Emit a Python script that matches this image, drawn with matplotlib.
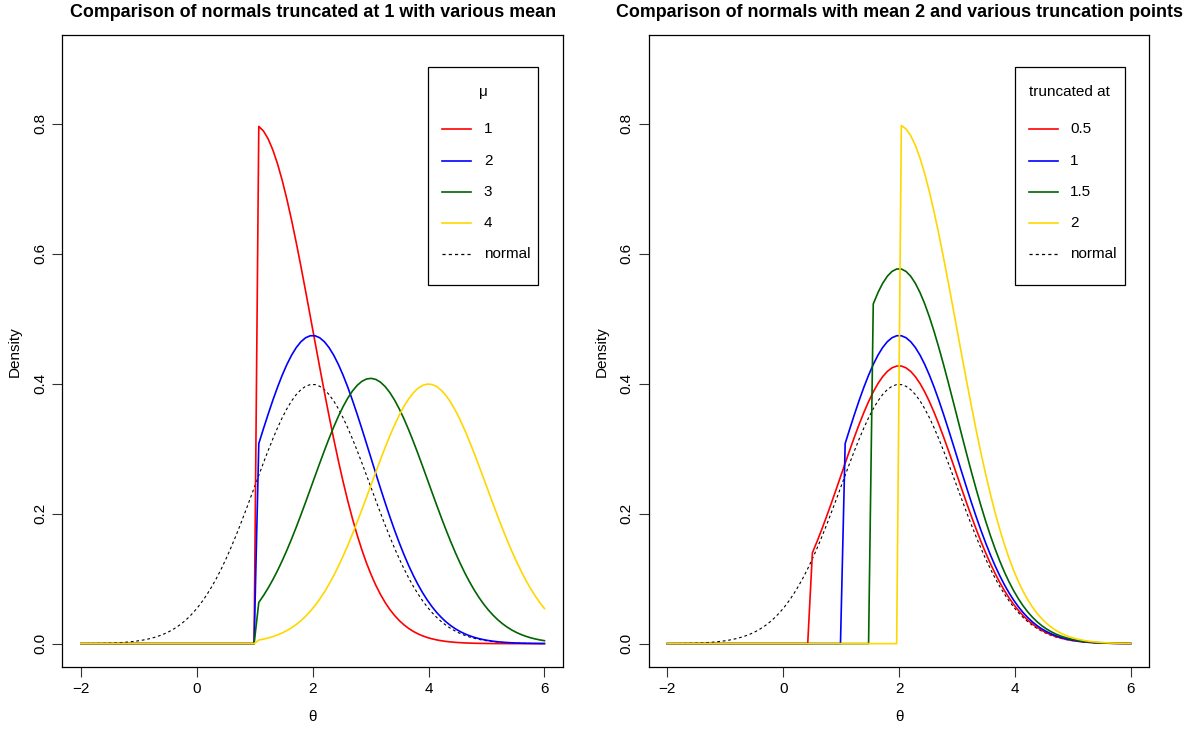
import math
import matplotlib
matplotlib.use("Agg")
import matplotlib.pyplot as plt
from matplotlib.patches import Rectangle
import numpy as np

plt.rcParams['font.family'] = ['Liberation Sans', 'DejaVu Sans']

# grid used for every curve (100 points on [-2, 6])
theta = np.linspace(-2, 6, 100)

# left panel: truncated at 1, different means
left_trunc = 1
left_means = [1, 2, 3, 4]
left_labels = ["1", "2", "3", "4"]

# right panel: mean 2, different truncation points
right_mean = 2
right_truncs = [0.5, 1, 1.5, 2]
right_labels = ["0.5", "1", "1.5", "2"]

colors = ["red", "blue", "darkgreen", "gold"]
y_ticks = [0.0, 0.2, 0.4, 0.6, 0.8]
x_ticks = [-2, 0, 2, 4, 6]

FS = 11
DASH = (0, (2.5, 2.5))
AX_W, AX_H = 500.7, 631.7  # axes size in pixels


def dnorm(x, mu):
    return np.exp(-0.5 * (x - mu) ** 2) / math.sqrt(2 * math.pi)


def pnorm(q, mu):
    return 0.5 * (1 + math.erf((q - mu) / math.sqrt(2)))


def dtrunc(x, mu, a):
    d = dnorm(x, mu) / (1 - pnorm(a, mu))
    return np.where(x > a, d, 0.0)


def style_axes(ax, title):
    ax.set_xlim(-2.32, 6.32)
    ax.set_ylim(-0.036, 0.936)
    ax.set_xticks(x_ticks)
    ax.set_xticklabels(["\u22122", "0", "2", "4", "6"])
    ax.set_yticks(y_ticks)
    ax.set_yticklabels([f"{v:.1f}" for v in y_ticks], rotation=90, va="center")
    ax.tick_params(direction="out", length=7, width=0.8, labelsize=FS,
                   pad=4, color="#333333")
    for s in ax.spines.values():
        s.set_linewidth(0.9)
    ax.set_xlabel("\u03b8", fontsize=FS, labelpad=10)
    ax.set_ylabel("Density", fontsize=FS, labelpad=8)
    ax.set_title(title, fontsize=12.9, fontweight="bold", pad=13)


def r_legend(ax, title, labels):
    # R-style legend box, placed in pixel offsets from the axes corner
    fx = lambda px: px / AX_W
    fy = lambda py: 1 - py / AX_H
    ax.add_patch(Rectangle((fx(366), fy(250)), fx(110) , 218 / AX_H,
                           transform=ax.transAxes, facecolor="white",
                           edgecolor="black", lw=0.9, zorder=5))
    ax.text(fx(421), fy(57), title, transform=ax.transAxes, fontsize=FS,
            ha="center", va="center", zorder=6)
    styles = [(c, "-", 1.2) for c in colors] + [("black", DASH, 0.9)]
    for i, (lab, (c, ls, lw)) in enumerate(zip(labels + ["normal"], styles)):
        yy = fy(94 + i * 31.2)
        ax.plot([fx(380), fx(409)], [yy, yy], color=c, ls=ls, lw=lw,
                transform=ax.transAxes, clip_on=False, zorder=6)
        ax.text(fx(421.5), yy, lab, transform=ax.transAxes, fontsize=FS,
                ha="left", va="center", zorder=6)


fig = plt.figure(figsize=(11.89, 7.29), dpi=100)
ax1 = fig.add_axes([0.0524, 0.0850, 0.4211, 0.8665])
ax2 = fig.add_axes([0.5456, 0.0850, 0.4210, 0.8665])

ax1.plot(theta, dnorm(theta, 2), color="black", lw=0.8, ls=DASH)
for mu, c in zip(left_means, colors):
    ax1.plot(theta, dtrunc(theta, mu, left_trunc), color=c, lw=1.2)
style_axes(ax1, "Comparison of normals truncated at 1 with various mean")
r_legend(ax1, "\u03bc", left_labels)

ax2.plot(theta, dnorm(theta, right_mean), color="black", lw=0.8, ls=DASH)
for a, c in zip(right_truncs, colors):
    ax2.plot(theta, dtrunc(theta, right_mean, a), color=c, lw=1.2)
style_axes(ax2, "Comparison of normals with mean 2 and various truncation points")
r_legend(ax2, "truncated at", right_labels)

fig.savefig("out.png", dpi=100)
